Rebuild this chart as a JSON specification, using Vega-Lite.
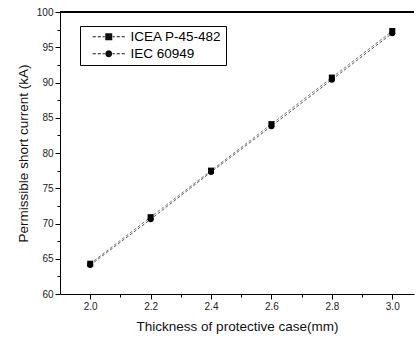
{
  "$schema": "https://vega.github.io/schema/vega-lite/v6.json",
  "width": 354,
  "height": 282,
  "autosize": {"type": "none"},
  "padding": {"left": 60, "top": 12, "right": 3, "bottom": 44},
  "background": "white",
  "config": {
    "view": {"stroke": null},
    "font": "Liberation Sans",
    "axis": {
      "domainColor": "black",
      "tickColor": "black",
      "labelColor": "#222",
      "titleColor": "#111",
      "labelFont": "Liberation Sans",
      "titleFont": "Liberation Sans",
      "labelFontSize": 10,
      "titleFontSize": 13.5,
      "titleFontWeight": "normal",
      "labelOverlap": false,
      "grid": false
    }
  },
  "data": {
    "values": [
      {"t": 2.0, "I": 64.3, "s": "ICEA P-45-482"},
      {"t": 2.2, "I": 70.9, "s": "ICEA P-45-482"},
      {"t": 2.4, "I": 77.5, "s": "ICEA P-45-482"},
      {"t": 2.6, "I": 84.1, "s": "ICEA P-45-482"},
      {"t": 2.8, "I": 90.7, "s": "ICEA P-45-482"},
      {"t": 3.0, "I": 97.3, "s": "ICEA P-45-482"},
      {"t": 2.0, "I": 64.1, "s": "IEC 60949"},
      {"t": 2.2, "I": 70.6, "s": "IEC 60949"},
      {"t": 2.4, "I": 77.3, "s": "IEC 60949"},
      {"t": 2.6, "I": 83.8, "s": "IEC 60949"},
      {"t": 2.8, "I": 90.4, "s": "IEC 60949"},
      {"t": 3.0, "I": 97.0, "s": "IEC 60949"}
    ]
  },
  "encoding": {
    "x": {
      "field": "t", "type": "quantitative",
      "scale": {"domain": [1.9, 3.072], "nice": false, "zero": false},
      "axis": {
        "title": "Thickness of protective case(mm)",
        "values": [2.0, 2.1, 2.2, 2.3, 2.4, 2.5, 2.6, 2.7, 2.8, 2.9, 3.0],
        "labelExpr": "(round(datum.value*10) % 2 == 0) ? format(datum.value, '.1f') : ''",
        "tickSize": {"condition": {"test": "round(datum.value*10) % 2 == 0", "value": 5}, "value": 3},
        "labelPadding": 2,
        "titlePadding": 8
      }
    },
    "y": {
      "field": "I", "type": "quantitative",
      "scale": {"domain": [60, 100], "nice": false, "zero": false},
      "axis": {
        "title": "Permissible short current (kA)",
        "values": [60, 62.5, 65, 67.5, 70, 72.5, 75, 77.5, 80, 82.5, 85, 87.5, 90, 92.5, 95, 97.5, 100],
        "labelExpr": "(datum.value % 5 == 0) ? format(datum.value, 'd') : ''",
        "tickSize": {"condition": {"test": "datum.value % 5 == 0", "value": 5}, "value": 3},
        "labelPadding": 2,
        "titlePadding": 6
      }
    }
  },
  "resolve": {"scale": {"shape": "independent"}, "legend": {"shape": "independent"}},
  "layer": [
    {
      "mark": {"type": "line", "strokeDash": [3, 2], "strokeWidth": 1},
      "encoding": {
        "color": {
          "field": "s", "type": "nominal",
          "scale": {"range": ["#777777", "#555555"]},
          "legend": null
        },
        "detail": {"field": "s"}
      }
    },
    {
      "mark": {"type": "point", "filled": true, "opacity": 1, "size": 36, "color": "black"},
      "encoding": {
        "shape": {
          "field": "s", "type": "nominal",
          "scale": {"domain": ["ICEA P-45-482", "IEC 60949"], "range": ["square", "circle"]},
          "legend": null
        }
      }
    },
    {
      "transform": [{"filter": "false"}],
      "mark": {"type": "point", "filled": true, "opacity": 1, "color": "#111"},
      "encoding": {
        "shape": {
          "field": "s", "type": "nominal",
          "scale": {
            "domain": ["ICEA P-45-482", "IEC 60949"],
            "range": [
              "M-3.2,-0.1H-2.6V0.1H-3.2ZM-2.2,-0.1H-1.6V0.1H-2.2ZM-1.2,-0.1H-0.8V0.1H-1.2ZM0.8,-0.1H1.2V0.1H0.8ZM1.6,-0.1H2.2V0.1H1.6ZM2.6,-0.1H3.2V0.1H2.6ZM-0.7,-0.7H0.7V0.7H-0.7Z",
              "M-3.2,-0.1H-2.6V0.1H-3.2ZM-2.2,-0.1H-1.6V0.1H-2.2ZM-1.2,-0.1H-0.8V0.1H-1.2ZM0.8,-0.1H1.2V0.1H0.8ZM1.6,-0.1H2.2V0.1H1.6ZM2.6,-0.1H3.2V0.1H2.6ZM0.7,0A0.7,0.7,0,1,1,-0.7,0A0.7,0.7,0,1,1,0.7,0Z"
            ]
          },
          "legend": {
            "title": null,
            "orient": "none",
            "legendX": 20,
            "legendY": 14,
            "strokeColor": "black",
            "padding": 4,
            "symbolSize": 100,
            "symbolOffset": 18,
            "labelFontSize": 13.5,
            "labelFont": "Liberation Sans",
            "labelColor": "black",
            "labelOffset": 15,
            "rowPadding": 2,
            "labelExpr": "datum.label + '\u00a0\u00a0'"
          }
        }
      }
    },
    {
      "mark": {"type": "rule", "color": "black", "strokeWidth": 1},
      "encoding": {"y": {"datum": 100}, "x": null}
    }
  ]
}
